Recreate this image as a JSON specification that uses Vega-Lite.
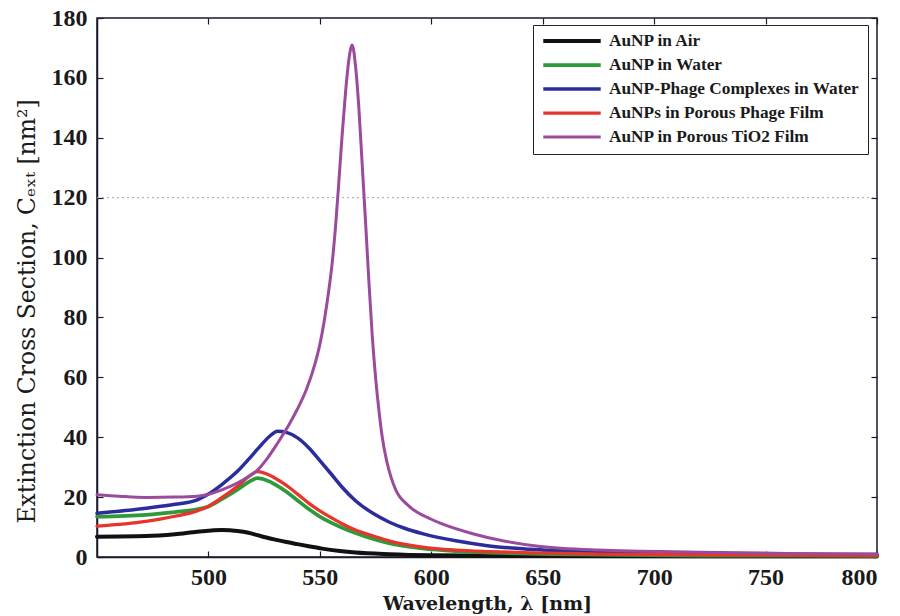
{
  "$schema": "https://vega.github.io/schema/vega-lite/v6.json",
  "width": 780,
  "height": 539,
  "autosize": {"type": "none"},
  "padding": {"left": 97, "top": 18, "right": 23, "bottom": 59},
  "background": "white",
  "config": {
    "view": {"stroke": "#1a1a2a", "strokeWidth": 1.5},
    "axis": {
      "domainColor": "#1a1a2a",
      "domainWidth": 1.5,
      "tickColor": "#1a1a2a",
      "tickWidth": 1.2,
      "grid": false,
      "labelFont": "Liberation Serif",
      "labelFontWeight": "bold",
      "labelFontSize": 24,
      "labelColor": "#1a1a1a",
      "titleFont": "DejaVu Serif",
      "titleColor": "#1a1a1a"
    }
  },
  "datasets": {
    "spectra": [
      {"series": "AuNP in Air", "wavelength": 450, "value": 6.8},
      {"series": "AuNP in Air", "wavelength": 472, "value": 7.0},
      {"series": "AuNP in Air", "wavelength": 485, "value": 7.6},
      {"series": "AuNP in Air", "wavelength": 495, "value": 8.4},
      {"series": "AuNP in Air", "wavelength": 506, "value": 9.0},
      {"series": "AuNP in Air", "wavelength": 513, "value": 8.7},
      {"series": "AuNP in Air", "wavelength": 518, "value": 8.1},
      {"series": "AuNP in Air", "wavelength": 522, "value": 7.3},
      {"series": "AuNP in Air", "wavelength": 526, "value": 6.5},
      {"series": "AuNP in Air", "wavelength": 530, "value": 5.8},
      {"series": "AuNP in Air", "wavelength": 535, "value": 5.0},
      {"series": "AuNP in Air", "wavelength": 540, "value": 4.3},
      {"series": "AuNP in Air", "wavelength": 545, "value": 3.6},
      {"series": "AuNP in Air", "wavelength": 551, "value": 2.8},
      {"series": "AuNP in Air", "wavelength": 559, "value": 2.0},
      {"series": "AuNP in Air", "wavelength": 566, "value": 1.5},
      {"series": "AuNP in Air", "wavelength": 581, "value": 0.95},
      {"series": "AuNP in Air", "wavelength": 600, "value": 0.6},
      {"series": "AuNP in Air", "wavelength": 650, "value": 0.35},
      {"series": "AuNP in Air", "wavelength": 800, "value": 0.25},

      {"series": "AuNP in Water", "wavelength": 450, "value": 13.5},
      {"series": "AuNP in Water", "wavelength": 472, "value": 14.1},
      {"series": "AuNP in Water", "wavelength": 485, "value": 15.0},
      {"series": "AuNP in Water", "wavelength": 495, "value": 15.9},
      {"series": "AuNP in Water", "wavelength": 500, "value": 16.9},
      {"series": "AuNP in Water", "wavelength": 506, "value": 19.3},
      {"series": "AuNP in Water", "wavelength": 513, "value": 22.5},
      {"series": "AuNP in Water", "wavelength": 518, "value": 25.0},
      {"series": "AuNP in Water", "wavelength": 522, "value": 26.3},
      {"series": "AuNP in Water", "wavelength": 526, "value": 25.6},
      {"series": "AuNP in Water", "wavelength": 530, "value": 24.2},
      {"series": "AuNP in Water", "wavelength": 535, "value": 21.8},
      {"series": "AuNP in Water", "wavelength": 540, "value": 18.9},
      {"series": "AuNP in Water", "wavelength": 545, "value": 16.0},
      {"series": "AuNP in Water", "wavelength": 550, "value": 13.5},
      {"series": "AuNP in Water", "wavelength": 555, "value": 11.5},
      {"series": "AuNP in Water", "wavelength": 560, "value": 9.8},
      {"series": "AuNP in Water", "wavelength": 566, "value": 8.0},
      {"series": "AuNP in Water", "wavelength": 574, "value": 6.0},
      {"series": "AuNP in Water", "wavelength": 581, "value": 4.6},
      {"series": "AuNP in Water", "wavelength": 596, "value": 2.9},
      {"series": "AuNP in Water", "wavelength": 611, "value": 2.0},
      {"series": "AuNP in Water", "wavelength": 626, "value": 1.5},
      {"series": "AuNP in Water", "wavelength": 644, "value": 1.1},
      {"series": "AuNP in Water", "wavelength": 675, "value": 0.8},
      {"series": "AuNP in Water", "wavelength": 720, "value": 0.5},
      {"series": "AuNP in Water", "wavelength": 800, "value": 0.4},

      {"series": "AuNP-Phage Complexes in Water", "wavelength": 450, "value": 14.6},
      {"series": "AuNP-Phage Complexes in Water", "wavelength": 472, "value": 16.3},
      {"series": "AuNP-Phage Complexes in Water", "wavelength": 485, "value": 17.6},
      {"series": "AuNP-Phage Complexes in Water", "wavelength": 495, "value": 19.1},
      {"series": "AuNP-Phage Complexes in Water", "wavelength": 500, "value": 21.0},
      {"series": "AuNP-Phage Complexes in Water", "wavelength": 506, "value": 24.2},
      {"series": "AuNP-Phage Complexes in Water", "wavelength": 513, "value": 28.6},
      {"series": "AuNP-Phage Complexes in Water", "wavelength": 518, "value": 32.6},
      {"series": "AuNP-Phage Complexes in Water", "wavelength": 522, "value": 36.0},
      {"series": "AuNP-Phage Complexes in Water", "wavelength": 527, "value": 40.0},
      {"series": "AuNP-Phage Complexes in Water", "wavelength": 531, "value": 42.0},
      {"series": "AuNP-Phage Complexes in Water", "wavelength": 535, "value": 41.6},
      {"series": "AuNP-Phage Complexes in Water", "wavelength": 540, "value": 39.8},
      {"series": "AuNP-Phage Complexes in Water", "wavelength": 545, "value": 36.5},
      {"series": "AuNP-Phage Complexes in Water", "wavelength": 550, "value": 32.2},
      {"series": "AuNP-Phage Complexes in Water", "wavelength": 555, "value": 27.8},
      {"series": "AuNP-Phage Complexes in Water", "wavelength": 560, "value": 23.3},
      {"series": "AuNP-Phage Complexes in Water", "wavelength": 566, "value": 18.8},
      {"series": "AuNP-Phage Complexes in Water", "wavelength": 574, "value": 14.5},
      {"series": "AuNP-Phage Complexes in Water", "wavelength": 581, "value": 11.7},
      {"series": "AuNP-Phage Complexes in Water", "wavelength": 588, "value": 9.6},
      {"series": "AuNP-Phage Complexes in Water", "wavelength": 596, "value": 7.8},
      {"series": "AuNP-Phage Complexes in Water", "wavelength": 611, "value": 5.4},
      {"series": "AuNP-Phage Complexes in Water", "wavelength": 626, "value": 3.7},
      {"series": "AuNP-Phage Complexes in Water", "wavelength": 644, "value": 2.6},
      {"series": "AuNP-Phage Complexes in Water", "wavelength": 675, "value": 1.7},
      {"series": "AuNP-Phage Complexes in Water", "wavelength": 720, "value": 1.1},
      {"series": "AuNP-Phage Complexes in Water", "wavelength": 800, "value": 0.8},

      {"series": "AuNPs in Porous Phage Film", "wavelength": 450, "value": 10.3},
      {"series": "AuNPs in Porous Phage Film", "wavelength": 472, "value": 11.9},
      {"series": "AuNPs in Porous Phage Film", "wavelength": 485, "value": 13.6},
      {"series": "AuNPs in Porous Phage Film", "wavelength": 495, "value": 15.4},
      {"series": "AuNPs in Porous Phage Film", "wavelength": 500, "value": 16.9},
      {"series": "AuNPs in Porous Phage Film", "wavelength": 506, "value": 19.8},
      {"series": "AuNPs in Porous Phage Film", "wavelength": 513, "value": 23.6},
      {"series": "AuNPs in Porous Phage Film", "wavelength": 518, "value": 26.8},
      {"series": "AuNPs in Porous Phage Film", "wavelength": 522, "value": 28.5},
      {"series": "AuNPs in Porous Phage Film", "wavelength": 526, "value": 27.8},
      {"series": "AuNPs in Porous Phage Film", "wavelength": 530, "value": 26.3},
      {"series": "AuNPs in Porous Phage Film", "wavelength": 535, "value": 23.9},
      {"series": "AuNPs in Porous Phage Film", "wavelength": 540, "value": 21.0},
      {"series": "AuNPs in Porous Phage Film", "wavelength": 545, "value": 18.0},
      {"series": "AuNPs in Porous Phage Film", "wavelength": 550, "value": 15.4},
      {"series": "AuNPs in Porous Phage Film", "wavelength": 555, "value": 13.2},
      {"series": "AuNPs in Porous Phage Film", "wavelength": 560, "value": 11.1},
      {"series": "AuNPs in Porous Phage Film", "wavelength": 566, "value": 9.0},
      {"series": "AuNPs in Porous Phage Film", "wavelength": 574, "value": 7.0},
      {"series": "AuNPs in Porous Phage Film", "wavelength": 581, "value": 5.4},
      {"series": "AuNPs in Porous Phage Film", "wavelength": 596, "value": 3.3},
      {"series": "AuNPs in Porous Phage Film", "wavelength": 611, "value": 2.3},
      {"series": "AuNPs in Porous Phage Film", "wavelength": 626, "value": 1.8},
      {"series": "AuNPs in Porous Phage Film", "wavelength": 644, "value": 1.4},
      {"series": "AuNPs in Porous Phage Film", "wavelength": 675, "value": 1.0},
      {"series": "AuNPs in Porous Phage Film", "wavelength": 720, "value": 0.7},
      {"series": "AuNPs in Porous Phage Film", "wavelength": 800, "value": 0.5},

      {"series": "AuNP in Porous TiO2 Film", "wavelength": 450, "value": 20.8},
      {"series": "AuNP in Porous TiO2 Film", "wavelength": 460, "value": 20.3},
      {"series": "AuNP in Porous TiO2 Film", "wavelength": 472, "value": 19.9},
      {"series": "AuNP in Porous TiO2 Film", "wavelength": 485, "value": 20.0},
      {"series": "AuNP in Porous TiO2 Film", "wavelength": 495, "value": 20.3},
      {"series": "AuNP in Porous TiO2 Film", "wavelength": 500, "value": 20.9},
      {"series": "AuNP in Porous TiO2 Film", "wavelength": 506, "value": 22.4},
      {"series": "AuNP in Porous TiO2 Film", "wavelength": 513, "value": 24.7},
      {"series": "AuNP in Porous TiO2 Film", "wavelength": 518, "value": 26.9},
      {"series": "AuNP in Porous TiO2 Film", "wavelength": 522, "value": 29.0},
      {"series": "AuNP in Porous TiO2 Film", "wavelength": 526, "value": 32.5},
      {"series": "AuNP in Porous TiO2 Film", "wavelength": 531, "value": 38.0},
      {"series": "AuNP in Porous TiO2 Film", "wavelength": 536, "value": 44.0},
      {"series": "AuNP in Porous TiO2 Film", "wavelength": 540, "value": 49.5},
      {"series": "AuNP in Porous TiO2 Film", "wavelength": 544, "value": 56.0},
      {"series": "AuNP in Porous TiO2 Film", "wavelength": 548, "value": 65.0},
      {"series": "AuNP in Porous TiO2 Film", "wavelength": 550, "value": 71.0},
      {"series": "AuNP in Porous TiO2 Film", "wavelength": 552, "value": 79.0},
      {"series": "AuNP in Porous TiO2 Film", "wavelength": 554, "value": 89.0},
      {"series": "AuNP in Porous TiO2 Film", "wavelength": 555.5, "value": 98.0},
      {"series": "AuNP in Porous TiO2 Film", "wavelength": 557, "value": 110.0},
      {"series": "AuNP in Porous TiO2 Film", "wavelength": 558.5, "value": 125.0},
      {"series": "AuNP in Porous TiO2 Film", "wavelength": 560, "value": 141.0},
      {"series": "AuNP in Porous TiO2 Film", "wavelength": 561.5, "value": 155.0},
      {"series": "AuNP in Porous TiO2 Film", "wavelength": 563, "value": 166.0},
      {"series": "AuNP in Porous TiO2 Film", "wavelength": 564.5, "value": 171.0},
      {"series": "AuNP in Porous TiO2 Film", "wavelength": 566, "value": 164.0},
      {"series": "AuNP in Porous TiO2 Film", "wavelength": 567.5, "value": 150.0},
      {"series": "AuNP in Porous TiO2 Film", "wavelength": 569, "value": 131.0},
      {"series": "AuNP in Porous TiO2 Film", "wavelength": 570.5, "value": 112.0},
      {"series": "AuNP in Porous TiO2 Film", "wavelength": 572, "value": 92.0},
      {"series": "AuNP in Porous TiO2 Film", "wavelength": 573.5, "value": 74.0},
      {"series": "AuNP in Porous TiO2 Film", "wavelength": 575, "value": 60.0},
      {"series": "AuNP in Porous TiO2 Film", "wavelength": 576.5, "value": 49.0},
      {"series": "AuNP in Porous TiO2 Film", "wavelength": 578, "value": 40.0},
      {"series": "AuNP in Porous TiO2 Film", "wavelength": 580, "value": 32.0},
      {"series": "AuNP in Porous TiO2 Film", "wavelength": 582, "value": 26.5},
      {"series": "AuNP in Porous TiO2 Film", "wavelength": 584, "value": 22.5},
      {"series": "AuNP in Porous TiO2 Film", "wavelength": 590, "value": 17.0},
      {"series": "AuNP in Porous TiO2 Film", "wavelength": 600, "value": 12.6},
      {"series": "AuNP in Porous TiO2 Film", "wavelength": 604, "value": 11.3},
      {"series": "AuNP in Porous TiO2 Film", "wavelength": 619, "value": 7.7},
      {"series": "AuNP in Porous TiO2 Film", "wavelength": 631, "value": 5.6},
      {"series": "AuNP in Porous TiO2 Film", "wavelength": 648, "value": 3.6},
      {"series": "AuNP in Porous TiO2 Film", "wavelength": 675, "value": 2.3},
      {"series": "AuNP in Porous TiO2 Film", "wavelength": 720, "value": 1.6},
      {"series": "AuNP in Porous TiO2 Film", "wavelength": 760, "value": 1.2},
      {"series": "AuNP in Porous TiO2 Film", "wavelength": 800, "value": 1.0}
    ],
    "gridline": [{"level": 120, "start": 450, "end": 800}]
  },
  "layer": [
    {
      "data": {"name": "gridline"},
      "mark": {"type": "rule", "color": "#a8a8a8", "strokeWidth": 1, "strokeDash": [2, 3]},
      "encoding": {
        "x": {"field": "start", "type": "quantitative", "scale": {"domain": [450, 800], "nice": false, "zero": false},
          "axis": {"orient": "top", "labels": false, "title": null, "domain": false, "tickSize": -6, "values": [500, 550, 600, 650, 700, 750, 800]}},
        "x2": {"field": "end"},
        "y": {"field": "level", "type": "quantitative", "scale": {"domain": [0, 180], "nice": false},
          "axis": {"orient": "right", "labels": false, "title": null, "domain": false, "tickSize": -6, "values": [0, 20, 40, 60, 80, 100, 120, 140, 160, 180]}}
      }
    },
    {
      "data": {"name": "spectra"},
      "mark": {"type": "line", "interpolate": "monotone", "strokeCap": "round", "strokeJoin": "round"},
      "encoding": {
        "x": {"field": "wavelength", "type": "quantitative",
          "scale": {"domain": [450, 800], "nice": false, "zero": false},
          "axis": {"values": [500, 550, 600, 650, 700, 750, 800], "tickSize": -6, "labelPadding": 14,
            "title": "Wavelength, λ [nm]", "titleFontSize": 19, "titleFontWeight": "bold", "titlePadding": 5}},
        "y": {"field": "value", "type": "quantitative",
          "scale": {"domain": [0, 180], "nice": false},
          "axis": {"values": [0, 20, 40, 60, 80, 100, 120, 140, 160, 180], "tickSize": -6, "labelPadding": 16,
            "title": "Extinction Cross Section, Cₑₓₜ [nm²]", "titleFontSize": 23.5, "titleFontWeight": "normal",
            "titleX": -70, "titleY": 293, "titleAlign": "center", "titleBaseline": "middle", "titleAngle": 270}},
        "color": {"field": "series", "type": "nominal",
          "sort": ["AuNP in Air", "AuNP in Water", "AuNP-Phage Complexes in Water", "AuNPs in Porous Phage Film", "AuNP in Porous TiO2 Film"],
          "scale": {"domain": ["AuNP in Air", "AuNP in Water", "AuNP-Phage Complexes in Water", "AuNPs in Porous Phage Film", "AuNP in Porous TiO2 Film"],
            "range": ["#111111", "#2f9a3c", "#2b2d9c", "#e8352c", "#9a4b9c"]},
          "legend": {
            "orient": "none", "legendX": 436, "legendY": 7,
            "title": null, "symbolType": "stroke", "symbolSize": 3300, "symbolStrokeWidth": 3,
            "clipHeight": 16,
            "labelFont": "Liberation Serif", "labelFontWeight": "bold", "labelFontSize": 17.3, "labelColor": "#1a1a1a",
            "labelOffset": 6, "rowPadding": 6, "padding": 8,
            "fillColor": "white", "strokeColor": "#222222", "labelLimit": 400
          }},
        "strokeWidth": {"field": "series", "type": "nominal",
          "scale": {"domain": ["AuNP in Air", "AuNP in Water", "AuNP-Phage Complexes in Water", "AuNPs in Porous Phage Film", "AuNP in Porous TiO2 Film"],
            "range": [4, 3, 3.2, 3, 3]},
          "legend": null},
        "order": {"field": "series"}
      }
    }
  ],
  "resolve": {"axis": {"x": "independent", "y": "independent"}}
}
